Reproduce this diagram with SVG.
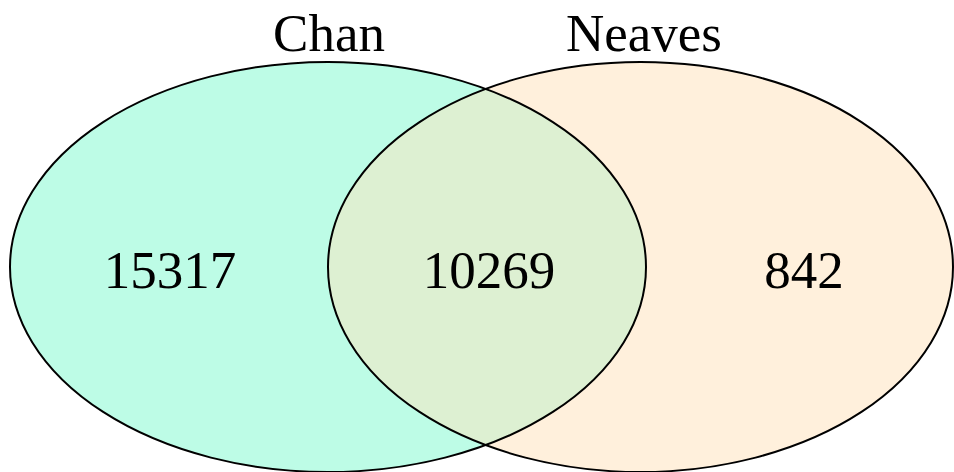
<svg xmlns="http://www.w3.org/2000/svg" width="954" height="472" viewBox="0 0 954 472">
  <style>
    .set { stroke: #000; stroke-width: 2; }
    .lbl { font-family: "Liberation Serif", "Times New Roman", serif; font-size: 53px; fill: #000; text-anchor: middle; }
  </style>
  <defs>
    <clipPath id="clipChan">
      <ellipse cx="328" cy="267" rx="318" ry="205"/>
    </clipPath>
  </defs>
  <rect width="954" height="472" fill="#fff"/>
  <!-- set regions -->
  <g id="chan">
    <ellipse cx="328" cy="267" rx="318" ry="205" fill="#bdfce6"/>
  </g>
  <g id="neaves">
    <ellipse cx="640.5" cy="267" rx="312.5" ry="205" fill="#fff0dc"/>
  </g>
  <g id="overlap">
    <ellipse cx="640.5" cy="267" rx="312.5" ry="205" fill="#ddf0d2" clip-path="url(#clipChan)"/>
  </g>
  <!-- outlines -->
  <g id="outlines" fill="none">
    <ellipse class="set" cx="328" cy="267" rx="318" ry="205"/>
    <ellipse class="set" cx="640.5" cy="267" rx="312.5" ry="205"/>
  </g>
  <!-- titles and counts -->
  <g id="labels">
    <text class="lbl" x="329" y="51">Chan</text>
    <text class="lbl" x="644" y="51">Neaves</text>
    <text class="lbl" x="170" y="288">15317</text>
    <text class="lbl" x="489" y="288">10269</text>
    <text class="lbl" x="804" y="288">842</text>
  </g>
</svg>
